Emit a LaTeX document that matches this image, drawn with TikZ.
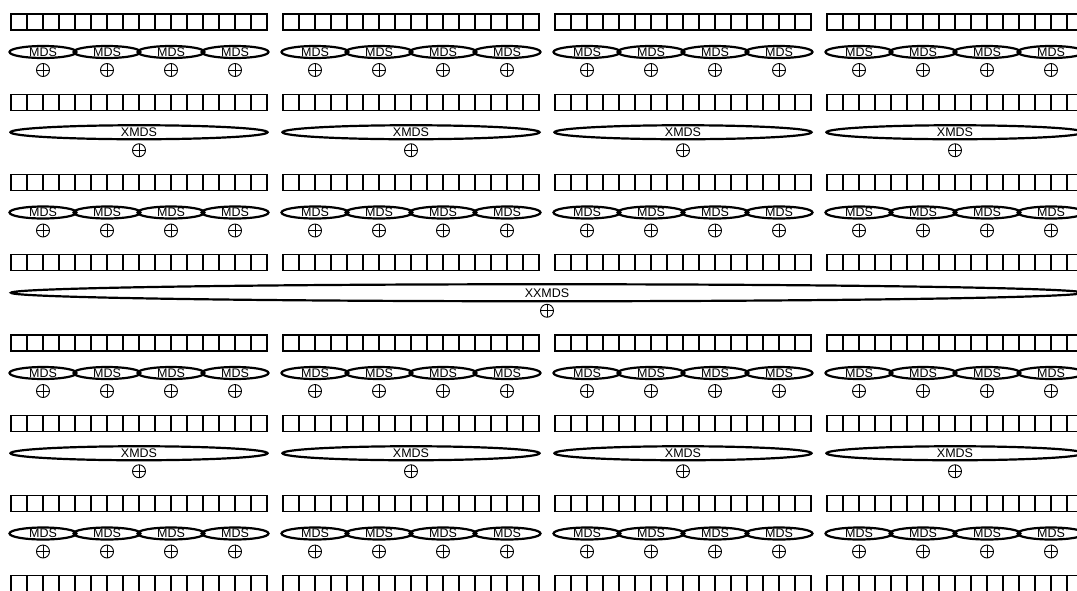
\documentclass[tikz,border=0pt]{standalone}
\usepackage{fontspec}
\newfontfamily\hv{Liberation Sans}
\usetikzlibrary{shapes.geometric}
\begin{document}
\begin{tikzpicture}[x=1pt,y=-1pt,
  cell/.style={draw, rectangle, line width=1.2pt, minimum size=16pt, inner sep=0pt},
  ring/.style={draw, ellipse, line width=2.2pt, inner sep=0pt},
  lbl/.style={font=\hv\fontsize{12.5}{12.5}\selectfont, inner sep=0pt},
  xo/.style={draw, circle, line width=0.9pt, minimum size=13pt, inner sep=0pt,
    path picture={\draw[line width=0.9pt]
      (path picture bounding box.north) -- (path picture bounding box.south)
      (path picture bounding box.west) -- (path picture bounding box.east);}}]
\useasboundingbox (0,0) rectangle (1077,590);
\clip (0,0) rectangle (1077,590);
% register rows
\foreach \r in {0,...,7}{
  \foreach \g in {0,...,3}{
    \foreach \i in {0,...,15}{
      \node[cell] (c-\r-\g-\i) at ({19+272*\g+16*\i},{22+80.25*\r}) {};
    }
  }
}
% MDS rows
\foreach \r in {0,2,4,6}{
  \foreach \g in {0,...,3}{
    \foreach \j in {0,...,3}{
      \node[ring, minimum width=67pt, minimum height=12pt] (m-\r-\g-\j) at ({43+272*\g+64*\j},{52+80.25*\r}) {};
      \node[lbl] (t-\r-\g-\j) at (m-\r-\g-\j.center) {MDS};
      \node[xo] (o-\r-\g-\j) at ({43+272*\g+64*\j},{70+80.25*\r}) {};
    }
  }
}
% XMDS rows
\foreach \r in {1,5}{
  \foreach \g in {0,...,3}{
    \node[ring, minimum width=257pt, minimum height=14pt] (x-\r-\g) at ({139+272*\g},{52+80.25*\r}) {};
    \node[lbl] (xt-\r-\g) at (x-\r-\g.center) {XMDS};
    \node[xo] (xo-\r-\g) at ({139+272*\g},{70+80.25*\r}) {};
  }
}
% XXMDS row
\node[ring, minimum width=1072pt, minimum height=17pt] (xx) at (547,{52+80.25*3}) {};
\node[lbl] (xxt) at (xx.center) {XXMDS};
\node[xo] (xxo) at (547,{70+80.25*3}) {};
\end{tikzpicture}
\end{document}
